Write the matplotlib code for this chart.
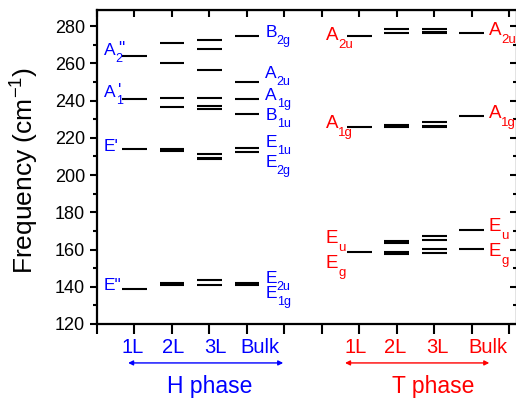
import matplotlib
matplotlib.use("Agg")
import matplotlib.pyplot as plt
from matplotlib.ticker import MultipleLocator

plt.rcParams["font.family"] = ["Liberation Sans", "DejaVu Sans"]
plt.rcParams["mathtext.default"] = "regular"

BLUE = "#0000ff"
RED = "#ff0000"

# Phonon frequencies (cm^-1) for each stacking, H phase at x=1..4, T phase at x=7..10
layers = ["1L", "2L", "3L", "Bulk"]
h_pos = [1, 2, 3, 4]
t_pos = [7, 8, 9, 10]

h_1l = [263.7, 241.0, 213.7, 138.7]
h_2l = [270.8, 259.9, 241.5, 236.7, 213.8, 212.8, 141.9, 141.0]
h_3l = [272.6, 267.6, 256.5, 241.5, 237.3, 235.5, 211.3, 209.3, 208.4, 143.6, 140.8]
h_bulk = [274.8, 249.7, 241.0, 232.6, 214.7, 212.3, 141.9, 141.0]

t_1l = [274.8, 225.7, 158.9]
t_2l = [278.3, 276.2, 226.9, 225.8, 164.7, 163.5, 158.6, 157.4]
t_3l = [278.2, 276.9, 276.1, 228.2, 226.4, 225.8, 167.2, 164.9, 160.4, 158.1]
t_bulk = [276.4, 231.5, 170.5, 160.5]

h_levels = [h_1l, h_2l, h_3l, h_bulk]
t_levels = [t_1l, t_2l, t_3l, t_bulk]

# mode symmetry labels: (letter, subscript, superscript, frequency at baseline)
h_left_labels = [("A", "2", '"', 264.4), ("A", "1", "'", 242.0),
                 ("E'", "", "", 213.0), ('E"', "", "", 138.3)]
h_right_labels = [("B", "2g", "", 274.1), ("A", "2u", "", 252.1),
                  ("A", "1g", "", 240.3), ("B", "1u", "", 229.5),
                  ("E", "1u", "", 215.0), ("E", "2g", "", 204.3),
                  ("E", "2u", "", 142.0), ("E", "1g", "", 134.0)]
t_left_labels = [("A", "2u", "", 272.5), ("A", "1g", "", 225.2),
                 ("E", "u", "", 163.5), ("E", "g", "", 150.1)]
t_right_labels = [("A", "2u", "", 275.2), ("A", "1g", "", 230.6),
                  ("E", "u", "", 169.9), ("E", "g", "", 156.5)]

fig = plt.figure(figsize=(5.16, 4.01), dpi=100)
ax = fig.add_axes([97 / 516, 77 / 401, 420 / 516, 314 / 401])

half = 0.33
for x, ys in zip(h_pos + t_pos, h_levels + t_levels):
    ax.hlines(ys, x - half, x + half, colors="black", linewidth=1.5)


def mode_label(x, y, main, sub, sup, color, size, subsize):
    ax.text(x, y, main, color=color, fontsize=size, ha="left", va="baseline")
    adv = 0.667 * size  # advance width of A/B/E in points
    if sub:
        ax.annotate(sub, xy=(x, y), xytext=(adv, -0.42 * size),
                    textcoords="offset points", color=color, fontsize=subsize,
                    ha="left", va="baseline")
    if sup:
        ax.annotate(sup, xy=(x, y), xytext=(adv + 1.5, 0.1 * size),
                    textcoords="offset points", color=color, fontsize=size,
                    ha="left", va="baseline")


for main, sub, sup, y in h_left_labels:
    mode_label(0.19, y, main, sub, sup, BLUE, 12.5, 9)
for main, sub, sup, y in h_right_labels:
    mode_label(4.49, y, main, sub, sup, BLUE, 12.5, 9)
for main, sub, sup, y in t_left_labels:
    mode_label(6.10, y, main, sub, sup, RED, 13.5, 9.5)
for main, sub, sup, y in t_right_labels:
    mode_label(10.46, y, main, sub, sup, RED, 13.5, 9.5)

ax.set_xlim(0, 11.21)
ax.set_ylim(120, 288.6)

ax.yaxis.set_major_locator(MultipleLocator(20))
ax.yaxis.set_minor_locator(MultipleLocator(10))
ax.xaxis.set_major_locator(MultipleLocator(1))
ax.tick_params(axis="y", which="major", direction="out", length=5, width=1.5,
               labelsize=13, right=False)
ax.tick_params(axis="y", which="minor", direction="out", length=3, width=1.5)
ax.tick_params(axis="x", which="major", direction="out", length=7, width=1.5,
               labelbottom=False)
for sp in ax.spines.values():
    sp.set_linewidth(1.6)

# mirrored inward ticks on top and right
top = ax.secondary_xaxis("top")
top.xaxis.set_major_locator(MultipleLocator(1))
top.tick_params(direction="in", length=5, width=1.5, labeltop=False)
right = ax.secondary_yaxis("right")
right.yaxis.set_major_locator(MultipleLocator(20))
right.yaxis.set_minor_locator(MultipleLocator(10))
right.tick_params(which="major", direction="in", length=5, width=1.5, labelright=False)
right.tick_params(which="minor", direction="in", length=3, width=1.5)

fig.text(25 / 516, 1 - 170 / 401, r"Frequency (cm$^{-1}$)", rotation=90,
         ha="center", va="center", fontsize=19)

# layer labels, phase arrows and phase names below the axis
xt = ax.get_xaxis_transform()
for name, x in zip(layers, [0.96, 2.03, 3.15, 4.35]):
    ax.text(x, -0.076, name, transform=xt, color=BLUE, fontsize=14.5,
            ha="center", va="center")
for name, x in zip(layers, [6.89, 7.96, 9.08, 10.44]):
    ax.text(x, -0.076, name, transform=xt, color=RED, fontsize=14.5,
            ha="center", va="center")

for x0, x1, c in [(0.83, 4.97, BLUE), (6.62, 10.47, RED)]:
    ax.annotate("", xy=(x1, -0.124), xytext=(x0, -0.124), xycoords=xt,
                textcoords=xt,
                arrowprops=dict(arrowstyle="<|-|>", color=c, lw=1.0,
                                mutation_scale=7, shrinkA=0, shrinkB=0))

ax.text(3.02, -0.20, "H phase", transform=xt, color=BLUE, fontsize=16.5,
        ha="center", va="center")
ax.text(8.97, -0.20, "T phase", transform=xt, color=RED, fontsize=16.5,
        ha="center", va="center")

fig.savefig("out.png", dpi=100)
